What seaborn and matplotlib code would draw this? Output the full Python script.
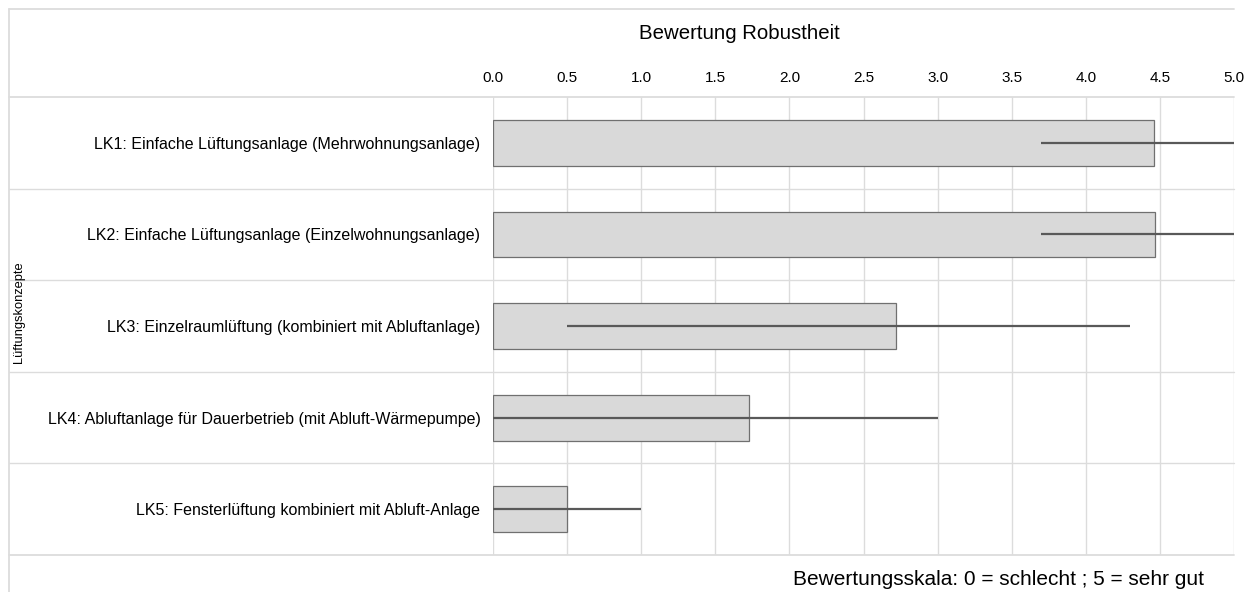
import matplotlib
matplotlib.use("Agg")
import matplotlib.pyplot as plt
from matplotlib.lines import Line2D
import seaborn as sns
import pandas as pd

# Ventilation concepts and their robustness ratings (mean, min, max)
konzepte = [
    "LK1: Einfache Lüftungsanlage (Mehrwohnungsanlage)",
    "LK2: Einfache Lüftungsanlage (Einzelwohnungsanlage)",
    "LK3: Einzelraumlüftung (kombiniert mit Abluftanlage)",
    "LK4: Abluftanlage für Dauerbetrieb (mit Abluft-Wärmepumpe)",
    "LK5: Fensterlüftung kombiniert mit Abluft-Anlage",
]
bewertung = [4.46, 4.47, 2.72, 1.73, 0.5]
minimum = [3.7, 3.7, 0.5, 0.0, 0.0]
maximum = [5.0, 5.0, 4.3, 3.0, 1.0]
x_ticks = [0.0, 0.5, 1.0, 1.5, 2.0, 2.5, 3.0, 3.5, 4.0, 4.5, 5.0]

df = pd.DataFrame({"Konzept": konzepte, "Bewertung": bewertung})

sns.set_theme(style="white")
plt.rcParams["font.family"] = ["Liberation Sans", "DejaVu Sans"]
plt.rcParams["text.color"] = "black"

W, H = 1245, 592
grid_col = "#dcdcdc"
fig = plt.figure(figsize=(W / 100, H / 100), dpi=100)
ax = fig.add_axes([493 / W, 1 - 555 / H, (1234 - 493) / W, (555 - 97) / H])

sns.barplot(data=df, x="Bewertung", y="Konzept", orient="h", ax=ax,
            color="#d9d9d9", edgecolor="#707070", linewidth=0.9,
            width=0.5, saturation=1, errorbar=None, zorder=3)

# min-max range of each rating
ax.hlines(y=range(len(konzepte)), xmin=minimum, xmax=maximum,
          color="#595959", linewidth=1.6, zorder=4)

ax.set_xlim(0, 5)
ax.set_ylim(len(konzepte) - 0.5, -0.5)
ax.set_xticks(x_ticks)
ax.set_xticklabels([f"{t:.1f}" for t in x_ticks])
ax.xaxis.tick_top()
ax.tick_params(axis="x", length=0, pad=9, labelsize=11, colors="#000000")
ax.tick_params(axis="y", length=0, pad=9, labelsize=11.5, colors="#000000")
ax.set_xlabel("")
ax.set_ylabel("")

for x in x_ticks:
    ax.axvline(x, color=grid_col, linewidth=1, zorder=0)
for s in ax.spines.values():
    s.set_visible(False)
ax.axvline(0, color=grid_col, linewidth=1.2, zorder=0)

# row separators running from the frame to the right edge of the plot
x_left, x_right = 9 / W, 1234 / W
for i in range(len(konzepte) + 1):
    yb = 97 + i * (555 - 97) / len(konzepte)
    fig.add_artist(Line2D([x_left, x_right], [1 - yb / H] * 2,
                          color=grid_col, linewidth=1.3 if i in (0, 5) else 1.0))

# outer frame
fig.add_artist(Line2D([x_left, x_right], [1 - 9 / H] * 2, color=grid_col, linewidth=1.3))
fig.add_artist(Line2D([x_left, x_left], [0, 1 - 9 / H], color=grid_col, linewidth=1.3))

fig.text(739 / W, 1 - 39 / H, "Bewertung Robustheit",
         ha="center", va="baseline", fontsize=14.7, color="black")
fig.text(19 / W, 1 - 312 / H, "Lüftungskonzepte", rotation=90,
         ha="center", va="center", fontsize=9.3, color="black")
fig.text(1204 / W, 1 - 585 / H, "Bewertungsskala: 0 = schlecht ; 5 = sehr gut",
         ha="right", va="baseline", fontsize=15, color="black")

fig.savefig("out.png", dpi=100)
